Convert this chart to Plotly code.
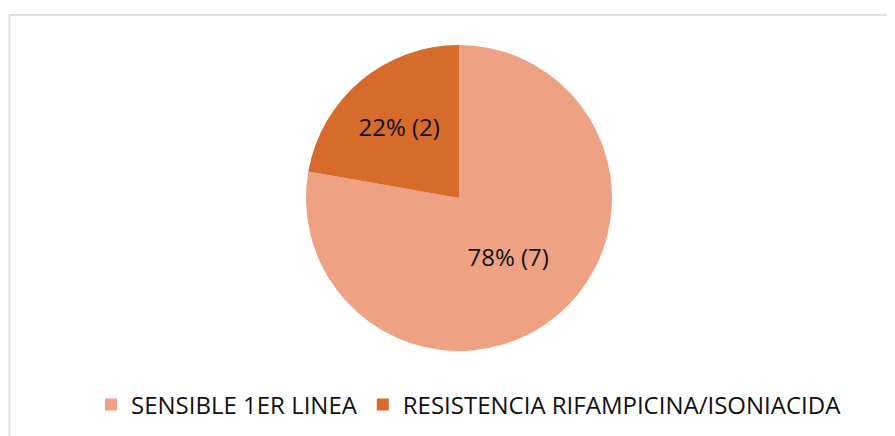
import plotly.graph_objects as go

labels = ['SENSIBLE 1ER LINEA', 'RESISTENCIA RIFAMPICINA/ISONIACIDA']
values = [7, 2]
colors = ['#EFA283', '#D66B2C']

# page body has an 8px margin, so the figure is 8px smaller and shifted
OFF = 8
W, H = 895 - OFF, 436 - OFF


def px(x):
    return (x - OFF) / W


def py(y):
    return 1 - (y - OFF) / H


fig = go.Figure(go.Pie(labels=labels,
                       values=values,
                       sort=False,
                       direction='clockwise',
                       rotation=0,
                       marker=dict(colors=colors, line=dict(width=0)),
                       texttemplate='%{percent:.0%} (%{value})',
                       textposition='inside',
                       insidetextorientation='horizontal',
                       textfont=dict(size=24, color='#111111'),
                       hoverinfo='label+value+percent',
                       domain=dict(x=[px(306), px(612)], y=[py(351), py(45)])
                       ))

# chart area border
fig.add_shape(type='rect', xref='paper', yref='paper',
              x0=px(9.5), x1=1.05, y0=-0.05, y1=py(15),
              line=dict(color='#DDE1E5', width=2))

fig.update_layout(width=W, height=H,
                  margin=dict(l=0, r=0, t=0, b=0),
                  paper_bgcolor='white',
                  font=dict(family='Open Sans, Calibri, sans-serif', color='#111111'),
                  showlegend=True,
                  legend=dict(orientation='h',
                              x=px(469), xanchor='center',
                              y=py(405), yanchor='middle',
                              font=dict(size=24),
                              traceorder='normal')
                  )

fig.write_html("out.html")
